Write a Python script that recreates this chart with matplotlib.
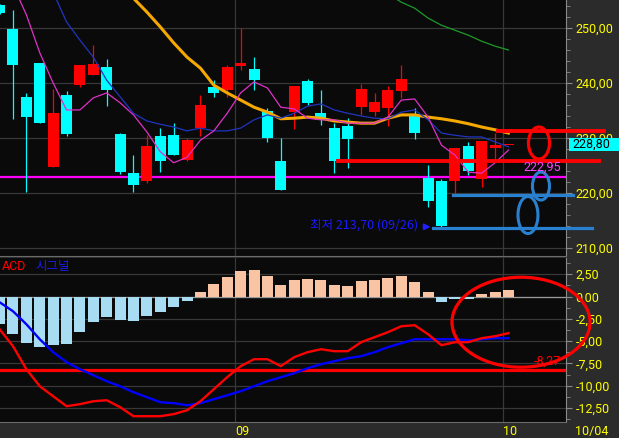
import numpy as np
import matplotlib.pyplot as plt
from matplotlib.patches import Ellipse, Rectangle
from matplotlib.ticker import MultipleLocator, FuncFormatter
from matplotlib.transforms import blended_transform_factory

# daily candles, oldest first (red = up day, cyan = down day)
opens = [254.2, 249.8, 237.5, 243.6, 224.8, 237.8, 239.6, 241.5, 242.9, 230.7,
         223.6, 222.2, 230.4, 230.6, 226.0, 231.9, 239.3, 238.7, 243.1, 242.6,
         234.9, 225.8, 234.7, 240.4, 234.5, 231.9, 232.1, 235.7, 234.8, 235.5,
         238.6, 234.2, 222.8, 222.2, 222.1, 228.6, 222.5, 228.1, 228.8]
highs = [254.4, 253.3, 238.2, 243.6, 239.0, 238.5, 243.3, 246.9, 244.4, 230.9,
         226.9, 230.6, 231.8, 232.7, 230.0, 237.8, 240.5, 243.3, 250.0, 244.7,
         235.5, 230.0, 239.5, 240.7, 238.7, 232.7, 233.6, 239.8, 238.1, 239.5,
         243.3, 235.4, 225.1, 222.6, 228.2, 229.3, 229.5, 231.0, 228.8]
lows = [252.5, 233.4, 220.1, 232.8, 224.8, 230.4, 239.3, 241.5, 235.9, 223.5,
        220.2, 221.9, 223.8, 226.9, 225.8, 230.4, 237.5, 237.5, 242.4, 238.7,
        229.3, 220.6, 231.7, 236.0, 232.4, 223.7, 224.6, 234.2, 234.0, 232.2,
        237.3, 229.9, 217.5, 213.7, 219.8, 223.3, 221.1, 226.0, 228.8]
closes = [252.7, 243.2, 233.9, 232.8, 234.5, 230.8, 243.3, 243.5, 238.8, 223.8,
          221.4, 228.6, 225.9, 226.9, 229.6, 236.0, 238.2, 242.9, 243.6, 240.6,
          230.0, 220.6, 239.5, 236.4, 233.3, 225.8, 229.9, 238.9, 236.6, 238.7,
          240.7, 230.9, 218.6, 214.0, 228.2, 224.0, 229.5, 228.7, 228.8]

nan = np.nan
ma5 = [263.3, 257.8, 252.4, 245.5, 240.0, 235.1, 235.1, 237.3, 238.2, 236.4,
       234.2, 231.1, 227.5, 225.5, 226.5, 229.6, 231.3, 234.5, 238.2, 240.2,
       239.1, 235.6, 235.3, 233.6, 233.3, 233.3, 232.7, 232.7, 232.7, 233.8,
       236.9, 237.1, 233.8, 228.7, 226.9, 223.8, 223.6, 225.5, 227.8]
ma20 = [273.3, 269.6, 265.6, 261.3, 256.5, 251.1, 247.8, 244.7, 240.5, 237.5,
        234.5, 233.1, 232.5, 232.0, 231.3, 231.8, 231.3, 231.3, 231.8, 233.3,
        234.2, 233.6, 234.5, 235.8, 236.2, 235.1, 234.5, 234.0, 233.6, 233.5,
        234.7, 235.1, 233.3, 230.9, 230.5, 230.2, 230.2, 229.3, 228.4]
ma60 = [nan, nan, nan, nan, nan, nan, 266.0, 263.3, 260.5, 257.8,
        255.4, 252.9, 250.2, 247.3, 244.7, 242.7, 239.6, 238.2, 236.9, 235.6,
        234.7, 233.5, 233.6, 233.8, 233.6, 233.1, 232.9, 232.7, 232.7, 233.6,
        234.2, 234.2, 233.8, 233.5, 233.1, 232.6, 232.0, 231.5, 230.9]
ma120 = [nan] * 29 + [256.2, 254.7, 253.6, 251.8, 250.5, 249.6, 248.7, 247.6, 246.7, 246.0]

# MACD panel
macd = [-3.67, -5.57, -8.15, -10.06, -11.18, -12.30, -12.07, -11.74, -11.63, -12.41,
        -13.42, -13.42, -13.42, -13.19, -12.75, -11.74, -10.39, -9.04, -7.81, -7.03,
        -7.03, -7.81, -6.80, -6.24, -5.91, -6.13, -6.13, -5.12, -4.56, -4.00,
        -3.33, -3.22, -4.23, -5.46, -5.12, -5.12, -4.67, -4.45, -4.11]
signal = [-0.64, -1.65, -3.11, -4.79, -6.24, -7.36, -8.15, -8.82, -9.50, -10.06,
          -10.73, -11.29, -11.85, -11.96, -12.19, -11.96, -11.51, -11.07, -10.62, -10.06,
          -9.50, -9.05, -8.60, -8.04, -7.59, -7.25, -6.92, -6.69, -6.24, -5.68,
          -5.24, -4.79, -4.79, -4.79, -4.79, -4.90, -4.79, -4.67, -4.67]
osc = [-3.10, -4.20, -5.25, -5.65, -5.45, -5.35, -3.97, -2.85, -2.32, -2.66,
       -2.73, -2.17, -1.72, -1.16, -0.49, 0.52, 1.41, 2.20, 2.84, 2.95,
       2.28, 1.30, 1.83, 1.94, 1.83, 1.30, 1.15, 1.72, 1.83, 2.05,
       2.31, 1.64, 0.52, -0.60, -0.30, -0.30, 0.29, 0.52, 0.74]

month_pos = [17.58, 37.6]
month_labels = ['09', '10']
last_date = '10/04'
last_price = 228.80
low_text = '최저 213,70 (09/26)'
level_magenta = 222.95
macd_level = -8.27

BG = '#0a0a0a'
PANEL = '#2b2b2b'
GRID = '#383838'
YEL = '#ffff00'
RED = '#ff0000'
CYAN = '#00ffff'
NUM = ['Roboto', 'DejaVu Sans']
KR = ['Noto Sans CJK KR', 'DejaVu Sans']
FS = 9

fmt = FuncFormatter(lambda v, p: f'{v:.2f}'.replace('.', ','))

fig = plt.figure(figsize=(6.19, 4.38), dpi=100, facecolor=PANEL)
ax1 = fig.add_axes([0, 182 / 438, 566 / 619, 256 / 438], facecolor=BG)
ax2 = fig.add_axes([0, 16 / 438, 566 / 619, 164 / 438], facecolor=BG)

for ax in (ax1, ax2):
    ax.set_xlim(0.03, 42.3)
    for s in ('left', 'top'):
        ax.spines[s].set_visible(False)
    ax.spines['right'].set_color('#8a8a8a')
    ax.spines['bottom'].set_color('#6a6a6a')
    ax.yaxis.tick_right()
    ax.yaxis.set_major_formatter(fmt)
    ax.tick_params(axis='y', which='both', colors='#8a8a8a', labelcolor=YEL,
                   labelsize=FS, labelfontfamily=NUM, pad=3)
    ax.tick_params(axis='y', which='major', length=4)
    ax.tick_params(axis='y', which='minor', length=3)
    ax.set_xticks(month_pos)
    ax.grid(True, color=GRID, lw=0.9)
    ax.set_axisbelow(True)

# ---- price panel
ax1.set_ylim(208.55, 255.09)
ax1.set_yticks([210, 220, 230, 240, 250])
ax1.yaxis.set_minor_locator(MultipleLocator(2))
ax1.tick_params(axis='x', length=0, labelbottom=False)

idx = np.arange(len(opens))
o = np.array(opens)
c = np.array(closes)
cols = np.where(c >= o, RED, CYAN)
ax1.axhline(level_magenta, color='#ff00ff', lw=1.6, zorder=2)
ax1.vlines(idx, lows, highs, colors=cols, lw=0.9, zorder=3)
ax1.bar(idx, np.maximum(np.abs(c - o), 0.2), width=0.82, bottom=np.minimum(o, c),
        color=cols, lw=0, zorder=3)
ax1.plot(idx, ma120, color='#1e9a2a', lw=0.9, zorder=4)
ax1.plot(idx, ma60, color='#f5a800', lw=2.2, zorder=4)
ax1.plot(idx, ma20, color='#2035c0', lw=0.9, zorder=4)
ax1.plot(idx, ma5, color='#e030c8', lw=0.9, zorder=4)

# hand-drawn marks
ax1.plot([25.27, 44.76], [225.8, 225.8], color=RED, lw=2.8, clip_on=False, zorder=6)
ax1.plot([37.22, 45.14], [231.3, 231.3], color=RED, lw=2.8, clip_on=False, zorder=6)
ax1.plot([33.86, 42.82], [219.6, 219.6], color='#2a80d0', lw=2.3, clip_on=False, zorder=6)
ax1.plot([32.37, 44.24], [213.6, 213.6], color='#2a80d0', lw=2.3, clip_on=False, zorder=6)
ax1.add_patch(Ellipse((40.28, 229.09), 1.57, 5.82, fill=False, ec=RED, lw=2.3, zorder=7))
ax1.add_patch(Ellipse((40.43, 221.27), 1.27, 5.09, fill=False, ec='#2a80d0', lw=2.2, zorder=7))
ax1.add_patch(Ellipse((39.46, 216.0), 1.49, 6.73, fill=False, ec='#2a80d0', lw=2.2, zorder=7))

ax1.text(41.93, 224.6, fmt(level_magenta), ha='right', va='center', color='#ff40ff',
         fontsize=FS, family=NUM, zorder=8)
ax1.text(23.18, 214.1, low_text, ha='left', va='center', color='#1a1aff',
         fontsize=9, family=KR, zorder=8)
ax1.annotate('', xy=(32.4, 213.85), xytext=(31.45, 213.85),
             arrowprops=dict(arrowstyle='-|>', color='#2020ff', lw=1.3, mutation_scale=9),
             zorder=8)

# current price box on the scale
tr = blended_transform_factory(ax1.transAxes, ax1.transData)
ax1.add_patch(Rectangle((569 / 566, last_price - 1.18), 50 / 566, 2.36, transform=tr,
                        fc=CYAN, ec='none', clip_on=False, zorder=9))
ax1.text(572 / 566, last_price, fmt(last_price), transform=tr, ha='left', va='center',
         color='black', fontsize=FS, family=NUM, zorder=10)

# ---- MACD panel
ax2.set_ylim(-14.07, 4.32)
ax2.set_yticks(np.arange(-12.5, 3, 2.5))
ax2.yaxis.set_minor_locator(MultipleLocator(1.25))
ax2.axhline(0, color='#9a9a9a', lw=0.9, zorder=1)
ax2.bar(idx, osc, width=0.82, color=['#f8c4a4' if v >= 0 else '#a8dcf2' for v in osc],
        lw=0, zorder=2)
ax2.axhline(macd_level, color=RED, lw=2.3, zorder=3)
ax2.plot(idx, signal, color='#0000ff', lw=1.7, zorder=4)
ax2.plot(idx, macd, color=RED, lw=1.7, zorder=4)
ax2.text(41.9, -7.25, fmt(macd_level), ha='right', va='center', color=RED,
         fontsize=FS, family=NUM, zorder=5)
ax2.add_patch(Ellipse((38.94, -2.88), 10.31, 10.09, fill=False, ec=RED, lw=2.3,
                      clip_on=False, zorder=9))

ax2.text(2 / 566, 0.951, 'ACD', transform=ax2.transAxes, ha='left', va='center',
         color=RED, fontsize=9, family=NUM)
ax2.text(35 / 566, 0.951, '시그널', transform=ax2.transAxes, ha='left', va='center',
         color='#1a1aff', fontsize=9, family=KR)

ax2.set_xticklabels(month_labels)
ax2.tick_params(axis='x', length=0, pad=2, labelcolor=YEL, labelsize=FS,
                labelfontfamily=NUM)
for lab in ax2.get_xticklabels():
    lab.set_ha('left')
fig.text(575 / 619, 1 - 431 / 438, last_date, ha='left', va='center', color=YEL,
         fontsize=FS, family=NUM)

fig.savefig('out.png', dpi=100, facecolor=PANEL)
